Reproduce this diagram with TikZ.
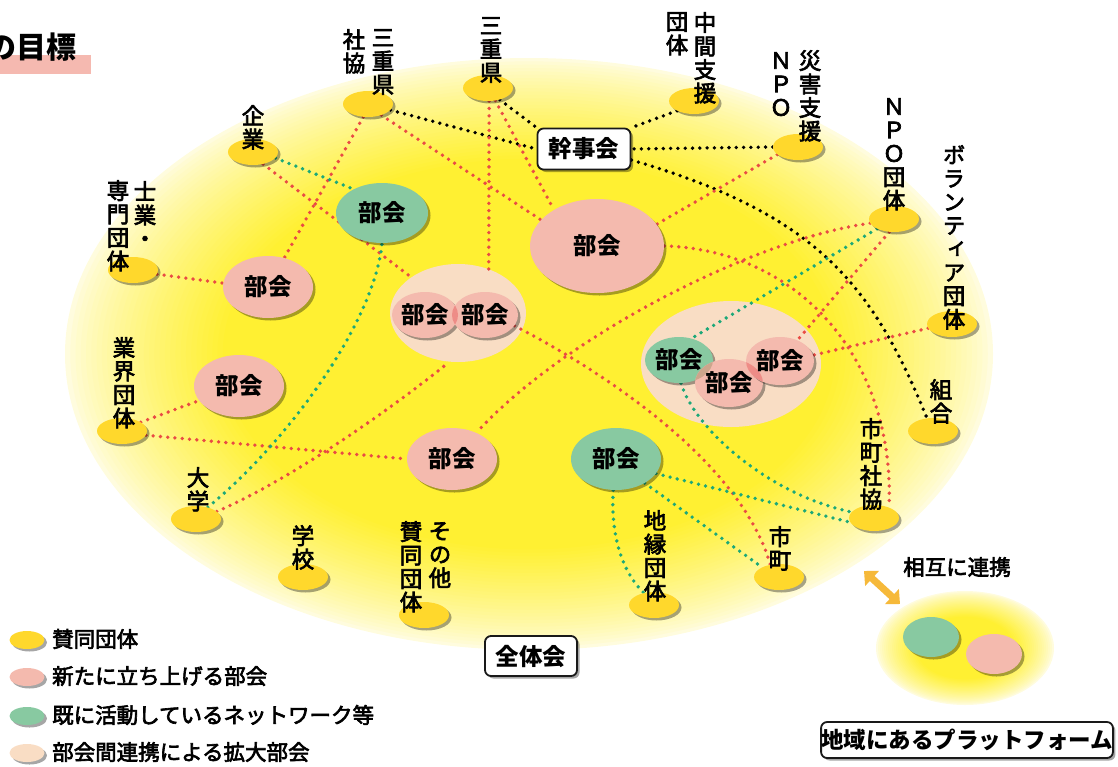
\documentclass[tikz,border=0pt]{standalone}
\usepackage{fontspec}
\newfontfamily\jp{Noto Sans CJK JP}
\newfontfamily\jpm{Noto Sans CJK JP}[FakeBold=3]
\newfontfamily\jpv{Noto Sans CJK JP}[RawFeature={+vert},FakeBold=3]
\usetikzlibrary{shapes.geometric,shadows,arrows.meta}
\pgfdeclarelayer{bg}
\pgfdeclarelayer{lines}
\pgfsetlayers{bg,lines,main}
\definecolor{byel}{RGB}{255,240,50}
\definecolor{bedge}{RGB}{255,252,222}
\definecolor{nodeyel}{RGB}{255,216,44}
\definecolor{bpink}{RGB}{244,186,174}
\definecolor{bgreen}{RGB}{136,201,161}
\definecolor{bpeach}{RGB}{249,221,196}
\definecolor{lens}{RGB}{238,140,135}
\definecolor{lensg}{RGB}{205,165,140}
\definecolor{reddot}{RGB}{233,75,68}
\definecolor{greendot}{RGB}{28,168,120}
\definecolor{titlepink}{RGB}{245,185,176}
\definecolor{arroworange}{RGB}{246,185,58}
\begin{document}
\begin{tikzpicture}[x=1pt,y=-1pt,
  shad/.style={drop shadow={shadow xshift=2.5pt,shadow yshift=-2.5pt,opacity=0.35,fill=black}},
  yel/.style={ellipse,fill=nodeyel,minimum width=50pt,minimum height=26pt,inner sep=0pt,shad},
  bukai/.style={ellipse,inner sep=0pt,shad},
  peach/.style={ellipse,fill=bpeach,inner sep=0pt},
  bukaitext/.style={font=\jp\bfseries\fontsize{23.5}{23.5}\selectfont,inner sep=0pt},
  vlab/.style={anchor=north,inner sep=0pt,align=center,font=\jpv\fontsize{22.5}{23.5}\selectfont},
  tbox/.style={rectangle,draw=black!90,line width=1.8pt,rounded corners=6pt,fill=white,inner sep=0pt,
    font=\jp\bfseries\fontsize{23.5}{23.5}\selectfont,shad},
  legell/.style={ellipse,minimum width=35pt,minimum height=18pt,inner sep=0pt,shad},
  legtext/.style={anchor=west,inner sep=0pt,font=\jpm\fontsize{21.5}{21.5}\selectfont},
  dotline/.style={line width=3.8pt,line cap=round,dash pattern=on 0pt off 7.3pt},
  rdot/.style={dotline,draw=reddot},
  gdot/.style={dotline,draw=greendot},
  bdot/.style={dotline,draw=black}]
\useasboundingbox (0,0) rectangle (1118,766);

% title
\fill[titlepink] (0,55) rectangle (91,74);
\node[anchor=east,inner sep=0pt,font=\jp\bfseries\fontsize{30}{30}\selectfont] (title) at (77,47) {の目標};

% background glows and enlarged groups
\begin{pgfonlayer}{bg}
\foreach \i in {0,...,30}{
  \pgfmathsetmacro\s{1-0.34*\i/30}
  \pgfmathsetmacro\c{100*(\i/30)^0.8}
  \fill[byel!\c!bedge] (529,354) ellipse [x radius=464*\s, y radius=296*\s];
}
\foreach \i in {0,...,20}{
  \pgfmathsetmacro\s{1-0.45*\i/20}
  \pgfmathsetmacro\c{100*(\i/20)^0.8}
  \fill[byel!\c!bedge] (965,648) ellipse [x radius=89*\s, y radius=57*\s];
}
\node[peach,minimum width=136pt,minimum height=98pt] (g1) at (458,313) {};
\node[peach,minimum width=180pt,minimum height=126pt] (g2) at (731,364) {};
\end{pgfonlayer}

% supporting organisations
\node[yel] (ys1) at (368,104) {};
\node[yel] (ys2) at (488,88) {};
\node[yel] (ys3) at (694,101) {};
\node[yel] (ys4) at (798,147) {};
\node[yel] (ys5) at (894,219) {};
\node[yel] (ys6) at (952,324) {};
\node[yel] (ys7) at (933,431) {};
\node[yel] (ys8) at (874,518) {};
\node[yel] (ys9) at (779,577) {};
\node[yel] (ys10) at (654,605) {};
\node[yel] (ys11) at (424,615) {};
\node[yel] (ys12) at (303,577) {};
\node[yel] (ys13) at (196,519) {};
\node[yel] (ys14) at (122,431) {};
\node[yel] (ys15) at (133,270) {};
\node[yel] (ys16) at (253,152) {};

% labels
\node[vlab] (l1a) at (383,29) {三\\重\\県};
\node[vlab] (l1b) at (354,29) {社\\協};
\node[vlab] (l2) at (491,17) {三\\重\\県};
\node[vlab] (l3a) at (705,12) {中\\間\\支\\援};
\node[vlab] (l3b) at (677,12) {団\\体};
\node[vlab] (l4a) at (810,50) {災\\害\\支\\援};
\node[vlab] (l4b) at (781,52) {Ｎ\\Ｐ\\Ｏ};
\node[vlab] (l5) at (894,98) {Ｎ\\Ｐ\\Ｏ\\団\\体};
\node[vlab] (l6) at (954,145) {ボ\\ラ\\ン\\テ\\ィ\\ア\\団\\体};
\node[vlab] (l7) at (941,379) {組\\合};
\node[vlab] (l8) at (871,418) {市\\町\\社\\協};
\node[vlab] (l9) at (780,526) {市\\町};
\node[vlab] (l10) at (655,510) {地\\縁\\団\\体};
\node[vlab] (l11a) at (440,522) {そ\\の\\他};
\node[vlab] (l11b) at (411,521) {賛\\同\\団\\体};
\node[vlab] (l12) at (303,525) {学\\校};
\node[vlab] (l13) at (198,467) {大\\学};
\node[vlab] (l14) at (124,337) {業\\界\\団\\体};
\node[vlab] (l15a) at (145,181) {士\\業\\・};
\node[vlab] (l15b) at (118,180) {専\\門\\団\\体};
\node[vlab] (l16) at (253,105) {企\\業};

% committees
\node[bukai,fill=bpink,minimum width=134pt,minimum height=94pt] (big) at (597,246) {};
\node[bukai,fill=bpink,minimum width=90pt,minimum height=62pt] (bL1) at (268,287) {};
\node[bukai,fill=bpink,minimum width=90pt,minimum height=62pt] (bL2) at (239,386) {};
\node[bukai,fill=bpink,minimum width=90pt,minimum height=62pt] (bC) at (452,459) {};
\node[bukai,fill=bgreen,minimum width=92pt,minimum height=60pt] (gA) at (382,213) {};
\node[bukai,fill=bgreen,minimum width=90pt,minimum height=62pt] (gB) at (616,459) {};
\node[bukai,fill=bpink,minimum width=66pt,minimum height=46pt] (g1a) at (425,315) {};
\node[bukai,fill=bpink,minimum width=66pt,minimum height=46pt] (g1b) at (485,315) {};
\node[bukai,fill=bgreen,minimum width=68pt,minimum height=46pt] (g2a) at (679,360) {};
\node[bukai,fill=bpink,minimum width=68pt,minimum height=48pt] (g2b) at (729,383) {};
\node[bukai,fill=bpink,minimum width=68pt,minimum height=48pt] (g2c) at (780,361) {};
\begin{scope}
\clip (g1a.center) ellipse [x radius=33, y radius=23];
\fill[lens] (g1b.center) ellipse [x radius=33, y radius=23];
\end{scope}
\begin{scope}
\clip (g2a.center) ellipse [x radius=34, y radius=23];
\fill[lensg] (g2b.center) ellipse [x radius=34, y radius=24];
\end{scope}
\begin{scope}
\clip (g2b.center) ellipse [x radius=34, y radius=24];
\fill[lens] (g2c.center) ellipse [x radius=34, y radius=24];
\end{scope}
\node[bukaitext] (tbig) at (big) {部会};
\node[bukaitext] (tbL1) at (bL1) {部会};
\node[bukaitext] (tbL2) at (bL2) {部会};
\node[bukaitext] (tbC) at (bC) {部会};
\node[bukaitext] (tgA) at (gA) {部会};
\node[bukaitext] (tgB) at (gB) {部会};
\node[bukaitext] (tg1a) at (g1a) {部会};
\node[bukaitext] (tg1b) at (g1b) {部会};
\node[bukaitext] (tg2a) at (g2a) {部会};
\node[bukaitext] (tg2b) at (g2b) {部会};
\node[bukaitext] (tg2c) at (g2c) {部会};

% boxes
\node[tbox,minimum width=93pt,minimum height=41pt] (kanji) at (584,149) {幹事会};
\node[tbox,minimum width=92pt,minimum height=40pt] (zentai) at (531,656) {全体会};

% connectors
\begin{pgfonlayer}{lines}
\draw[bdot] (ys1.-15) -- (kanji.west);
\draw[bdot] (ys2.-45) -- (kanji.north west);
\draw[bdot] (ys3.-150) -- (kanji.north east);
\draw[bdot] (ys4.west) -- (kanji.east);
\draw[bdot] ([yshift=-11pt]kanji.east) .. controls (820,215) and (873,287) .. (ys7.115);
\draw[rdot] (ys1.-110) -- (bL1);
\draw[rdot] (ys1.-40) -- (big.155);
\draw[rdot] (ys16.-50) -- (g1);
\draw[rdot] (ys2.-85) -- (g1.55);
\draw[rdot] (ys2.-60) -- (big.140);
\draw[rdot] (ys4.-160) -- (big.20);
\draw[rdot] (ys5.-170) .. controls (750,240) and (560,340) .. (bC.47);
\draw[rdot] (ys5.-110) -- (g2c.50);
\draw[rdot] (ys6.190) -- (g2c.10);
\draw[rdot] (big.east) .. controls (800,250) and (895,360) .. (ys8.35);
\draw[rdot] (g1b.-20) .. controls (600,370) and (740,460) .. (ys9.125);
\draw[rdot] (ys15.-10) -- (bL1.175);
\draw[rdot] (ys14.25) -- (bL2.-160);
\draw[rdot] (ys14.-10) -- (bC.west);
\draw[rdot] (ys13.20) .. controls (290,480) and (390,410) .. (g1.-100);
\draw[gdot] (ys16.-15) -- (gA.140);
\draw[gdot] (ys13.45) .. controls (290,440) and (375,320) .. (gA.-90);
\draw[gdot] (ys5.-150) -- (g2a.60);
\draw[gdot] (gB.-95) .. controls (610,540) and (625,575) .. (ys10.130);
\draw[gdot] (gB.-40) -- (ys9.150);
\draw[gdot] (gB.-20) -- (ys8.-170);
\draw[gdot] (g2a.-85) .. controls (695,430) and (770,495) .. (ys8.165);
\end{pgfonlayer}

% platform
\node[bukai,fill=bgreen,minimum width=56pt,minimum height=40pt] (pfg) at (931,637) {};
\node[bukai,fill=bpink,minimum width=56pt,minimum height=40pt] (pfp) at (994,654) {};
\coordinate (a1) at (864,571);
\coordinate (a2) at (900,604);
\draw[arroworange,line width=7pt,{Triangle[length=11pt,width=20pt]}-{Triangle[length=11pt,width=20pt]}] (a1) -- (a2);
\node[inner sep=0pt,font=\jpm\fontsize{21.5}{21.5}\selectfont] (sogo) at (957,567) {相互に連携};
\node[tbox,minimum width=291pt,minimum height=36pt,font=\jp\bfseries\fontsize{22.5}{22.5}\selectfont] (pf) at (967,740) {地域にあるプラットフォーム};

% legend
\node[legell,fill=nodeyel] (lg1) at (27,640) {};
\node[legell,fill=bpink] (lg2) at (27,677) {};
\node[legell,fill=bgreen] (lg3) at (27,716) {};
\node[legell,fill=bpeach] (lg4) at (27,753) {};
\node[legtext] (lt1) at (52,639) {賛同団体};
\node[legtext] (lt2) at (52,676) {新たに立ち上げる部会};
\node[legtext] (lt3) at (52,715) {既に活動しているネットワーク等};
\node[legtext] (lt4) at (52,752) {部会間連携による拡大部会};
\end{tikzpicture}
\end{document}
